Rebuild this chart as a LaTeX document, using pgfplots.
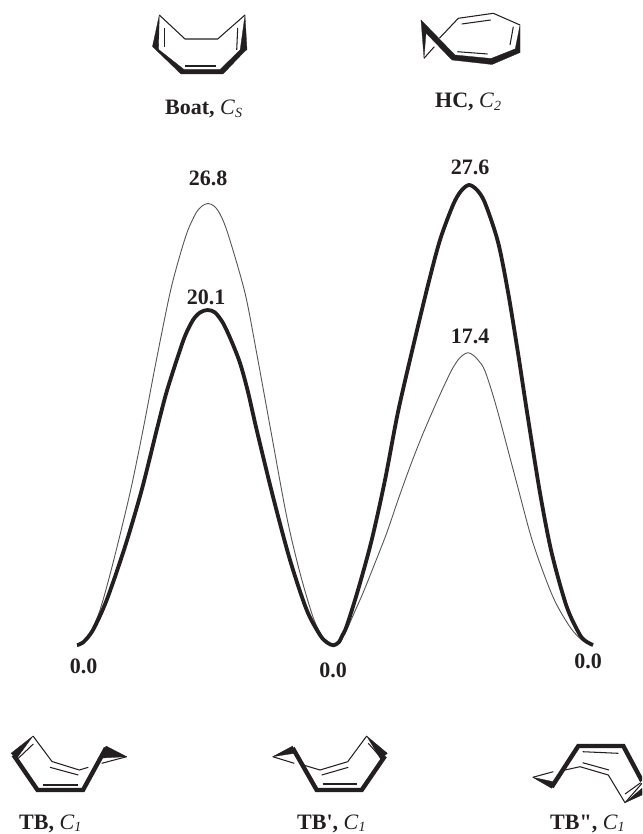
\documentclass[border=0pt]{standalone}
\usepackage{pgfplots}
\usepackage{fontspec}
\setmainfont{Liberation Serif}
\newfontfamily\plainfont{Liberation Serif}
\pgfplotsset{compat=1.18}
\definecolor{ink}{HTML}{231F20}
\definecolor{thincurve}{HTML}{555555}
\newcommand{\lab}[2]{\fontsize{22}{22}\selectfont\textbf{#1} \textit{C}\raisebox{-0.25ex}{\fontsize{14}{14}\selectfont\textit{#2}}}
\newcommand{\val}{\fontsize{22}{22}\selectfont\bfseries}
\begin{document}
\begin{tikzpicture}
\path[use as bounding box] (0,0) rectangle (642pt,834pt);
\begin{axis}[
  scale only axis, width=642pt, height=834pt,
  xmin=0, xmax=642, ymin=0, ymax=834, y dir=reverse,
  hide axis, clip=true,
  every axis plot/.append style={line join=round},
  thick curve/.style={ink, line width=3.8pt, smooth, line cap=butt},
  thin curve/.style={thincurve, line width=0.9pt, smooth},
  hair/.style={ink, line width=1.05pt},
  bold/.style={ink, line width=4.4pt, line join=miter},
  wedge/.style={fill=ink, draw=ink, line width=0.3pt},
]
% thin curve
\addplot[thin curve] coordinates {(77,645)(84,641)(90,633)(100,610)(113,563)(130,493)(143,430)(156,362)(170,293)(180,255)(188,230)(196,213)(202,206)(208,203.5)(214,206)(220,214)(228,234)(245,293)(257,355)(270.7,430)(286.7,516.7)(300,573)(313,617)(322,636)(328,643)(333.5,645.3)(339,643)(342,639)(346.7,630)(355,611)(363,593)(375,563)(386.7,533)(398,500)(410,466.7)(422,436)(434,408)(443,388)(451.7,370)(458,360)(463,355)(468,352.7)(473,355)(478,360)(485,371)(496.7,408)(516.7,483)(533,543)(553,597)(570,627)(582,640)(593,645)};
% thick curve
\addplot[thick curve] coordinates {(77,645)(83,642.5)(93,630)(106.7,600)(125,546.7)(141.7,490)(156.7,430)(166,394)(176.7,360)(185,336)(193,320)(200,312.5)(207.5,310)(215,312.5)(223,323)(231,340)(240,363)(248,392)(256.7,430)(273,496.7)(290,560)(306.7,610)(320,635)(327,642.5)(333.5,645.3)(339,642)(342,636)(346.7,626)(358,590)(371.7,540)(385,480)(398,412)(413,347)(428,285)(440,240)(453,205)(461,191)(469,185)(477,190)(485,203)(498,242)(508,292)(518,353)(526.7,410)(540,493)(551.7,553)(566.7,606.7)(580,635)(587,642)(593,645)};
% Boat
\addplot[hair] coordinates {(159.3,15)(185,39)(217.7,39)(245,15)};
\addplot[hair] coordinates {(164.3,28)(164.3,47)};
\addplot[hair] coordinates {(237.7,28)(236.7,50)};
\addplot[hair] coordinates {(185,66)(216,66)};
\addplot[wedge] coordinates {(159.3,15)(152.5,46.5)(158.5,50)} -- cycle;
\addplot[wedge] coordinates {(245,15)(247,50)(240,51)} -- cycle;
\addplot[wedge] coordinates {(153,47)(181,74)(223,74)(246,50)(240,50)(220,69.5)(184,69.5)(158,49)} -- cycle;
% HC
\addplot[hair] coordinates {(424,58.3)(434.3,46.7)};
\addplot[hair] coordinates {(439.3,38.3)(458.3,18.3)(493.3,13.3)(520,25)};
\addplot[hair] coordinates {(461.7,24)(490.7,20)};
\addplot[hair] coordinates {(513.3,26.7)(510,45)};
\addplot[hair] coordinates {(457.3,51.7)(487.7,54)};
\addplot[wedge] coordinates {(421,20)(424,58.3)(426,33)} -- cycle;
\addplot[wedge] coordinates {(520,25)(520,52.5)(515,50)} -- cycle;
\addplot[wedge] coordinates {(421,20)(424,31)(452,60)(492,64.5)(520,52.5)(515,49)(491,58.5)(455,55)} -- cycle;
% TB
\addplot[hair] coordinates {(33,736)(52,761.5)(79.3,770)(88.3,767.3)};
\addplot[hair] coordinates {(126.7,756.7)(101.7,763.3)};
\addplot[hair] coordinates {(33.3,744)(18.3,758.3)};
\addplot[hair] coordinates {(50,767.3)(78.3,775)};
\addplot[hair] coordinates {(42.7,785)(77.7,785)};
\addplot[wedge] coordinates {(33,736)(11,753.3)(16.7,758.3)} -- cycle;
\addplot[wedge] coordinates {(106,746)(126.7,756.7)(101.7,758)} -- cycle;
\addplot[bold] coordinates {(13.5,755)(37.5,790)(83,790)(106,748)};
% TB'
\addplot[hair] coordinates {(272.7,756.7)(294.3,763.3)};
\addplot[hair] coordinates {(366.7,736)(347.7,761.7)(320,770)(303.3,765)};
\addplot[hair] coordinates {(322.7,784)(356.7,784)};
\addplot[hair] coordinates {(321.7,775)(348.3,767.3)};
\addplot[hair] coordinates {(368.3,743.3)(380.7,757.3)};
\addplot[wedge] coordinates {(292.7,746)(272.7,756.7)(294.3,753.3)} -- cycle;
\addplot[wedge] coordinates {(366.7,736)(387.3,753.3)(380.7,759.3)} -- cycle;
\addplot[bold] coordinates {(292.7,748)(316.7,790)(361.7,790)(385,756)};
% TB''
\addplot[hair] coordinates {(532.7,777.3)(553.3,771.7)};
\addplot[hair] coordinates {(565,770)(580,766.7)(608.3,775)(625,802.7)(642,783.3)};
\addplot[hair] coordinates {(582.7,751.7)(618.3,753.3)};
\addplot[hair] coordinates {(582.7,762.7)(609,770)};
\addplot[hair] coordinates {(625,794)(640.7,782.7)};
\addplot[wedge] coordinates {(532.7,777.3)(553.3,781.7)(551.7,788.3)} -- cycle;
\addplot[wedge] coordinates {(625,802.7)(642,788.3)(642,795)} -- cycle;
\addplot[bold] coordinates {(551.7,787)(578.3,746)(623.3,746)(642,781)};
% labels
\node[text=ink] at (axis cs:208,178) {\val 26.8};
\node[text=ink] at (axis cs:206,297) {\val 20.1};
\node[text=ink] at (axis cs:470,167.5) {\val 27.6};
\node[text=ink] at (axis cs:470,336) {\val 17.4};
\node[text=ink] at (axis cs:83.5,666.5) {\val 0.0};
\node[text=ink] at (axis cs:333,670) {\val 0.0};
\node[text=ink] at (axis cs:588,661.5) {\val 0.0};
\node[text=ink,anchor=base west,inner sep=0pt] at (axis cs:165,115) {\lab{Boat,}{S}};
\node[text=ink,anchor=base west,inner sep=0pt] at (axis cs:435,108) {\lab{HC,}{2}};
\node[text=ink,anchor=base west,inner sep=0pt] at (axis cs:19,829) {\lab{TB,}{1}};
\node[text=ink,anchor=base west,inner sep=0pt] at (axis cs:297,829) {\lab{TB{\plainfont\bfseries'},}{1}};
\node[text=ink,anchor=base west,inner sep=0pt] at (axis cs:550,829) {\lab{TB{\plainfont\bfseries"},}{1}};
\end{axis}
\end{tikzpicture}
\end{document}
